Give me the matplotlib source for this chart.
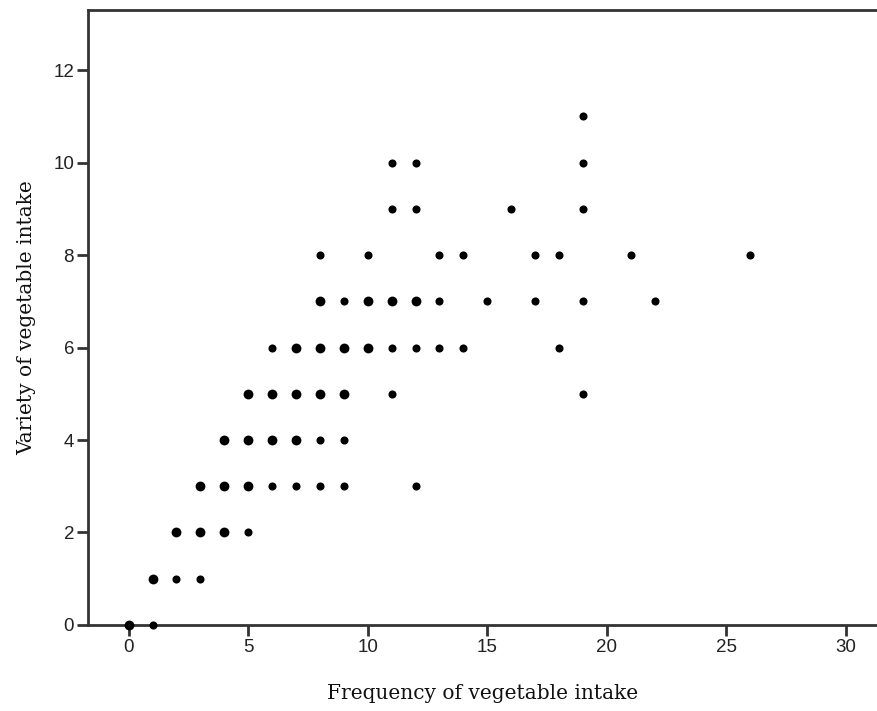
import matplotlib.pyplot as plt
import numpy as np

plt.rcParams['font.family'] = ['Liberation Sans', 'DejaVu Sans']

# frequency (x), variety (y), big = point drawn heavier (overlapping cases)
freq = [0, 1,
        1, 2, 3,
        2, 3, 4, 5,
        3, 4, 5, 6, 7, 8, 9, 12,
        4, 5, 6, 7, 8, 9,
        5, 6, 7, 8, 9, 11, 19,
        6, 7, 8, 9, 10, 11, 12, 13, 14, 18,
        8, 9, 10, 11, 12, 13, 15, 17, 19, 22,
        8, 10, 13, 14, 17, 18, 21, 26,
        11, 12, 16, 19,
        11, 12, 19,
        19]
variety = [0, 0,
           1, 1, 1,
           2, 2, 2, 2,
           3, 3, 3, 3, 3, 3, 3, 3,
           4, 4, 4, 4, 4, 4,
           5, 5, 5, 5, 5, 5, 5,
           6, 6, 6, 6, 6, 6, 6, 6, 6, 6,
           7, 7, 7, 7, 7, 7, 7, 7, 7, 7,
           8, 8, 8, 8, 8, 8, 8, 8,
           9, 9, 9, 9,
           10, 10, 10,
           11]
big = [1, 0,
       1, 0, 0,
       1, 1, 1, 0,
       1, 1, 1, 0, 0, 0, 0, 0,
       1, 1, 1, 1, 0, 0,
       1, 1, 1, 1, 1, 0, 0,
       0, 1, 1, 1, 1, 0, 0, 0, 0, 0,
       1, 0, 1, 1, 1, 0, 0, 0, 0, 0,
       0, 0, 0, 0, 0, 0, 0, 0,
       0, 0, 0, 0,
       0, 0, 0,
       0]

x_ticks = [0, 5, 10, 15, 20, 25, 30]
y_ticks = [0, 2, 4, 6, 8, 10, 12]

freq = np.array(freq)
variety = np.array(variety)
big = np.array(big, dtype=bool)

fig = plt.figure(figsize=(8.77, 7.11), dpi=100)
ax = fig.add_axes([0.1003, 0.121, 0.8997, 0.865])

ax.scatter(freq[~big], variety[~big], s=34, c='black', linewidths=0, zorder=3, clip_on=False)
ax.scatter(freq[big], variety[big], s=50, c='black', linewidths=0, zorder=3, clip_on=False)

ax.set_xlim(-1.7, 31.3)
ax.set_ylim(0, 13.3)
ax.set_xticks(x_ticks)
ax.set_yticks(y_ticks)

for s in ['left', 'top', 'bottom']:
    ax.spines[s].set_linewidth(2)
    ax.spines[s].set_color('#333333')
ax.spines['right'].set_visible(False)

ax.tick_params(axis='both', colors='#333333', width=2, length=8, pad=2,
               labelsize=13.5, labelcolor='#222222')

ax.set_xlabel('Frequency of vegetable intake', family='DejaVu Serif',
              fontsize=14.5, labelpad=20, color='#111111')
ax.set_ylabel('Variety of vegetable intake', family='DejaVu Serif',
              fontsize=14.5, labelpad=12, color='#111111')

fig.savefig('out.png', dpi=100)
